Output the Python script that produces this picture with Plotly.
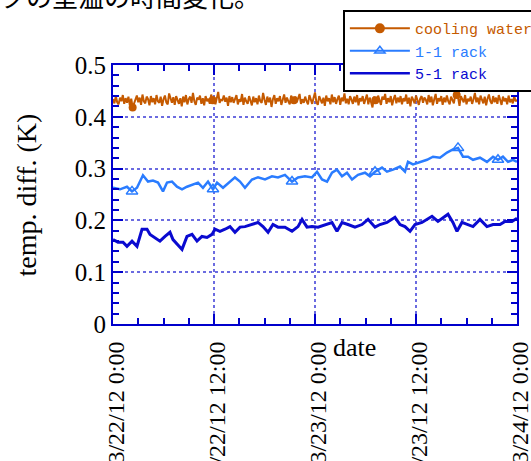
import plotly.graph_objects as go
from datetime import datetime, timedelta

# ---------------- data ----------------
start = datetime(2012, 3, 22, 0, 0)

# cooling water: sampled every 10 minutes (hours 0..48)
cooling_water = [
    0.434, 0.426, 0.440, 0.428, 0.424, 0.437, 0.430, 0.442, 0.425, 0.436, 0.427, 0.439, 0.422, 0.435, 0.418, 0.426, 0.433,
    0.441, 0.428, 0.437, 0.423, 0.443, 0.430, 0.426, 0.439, 0.434, 0.422, 0.440, 0.428, 0.436, 0.424, 0.442, 0.430, 0.427,
    0.439, 0.421, 0.434, 0.441, 0.428, 0.424, 0.445, 0.433, 0.427, 0.438, 0.423, 0.440, 0.430, 0.425, 0.436, 0.420, 0.439,
    0.428, 0.442, 0.424, 0.434, 0.439, 0.427, 0.446, 0.430, 0.423, 0.437, 0.433, 0.441, 0.425, 0.436, 0.422, 0.440, 0.430,
    0.435, 0.425, 0.443, 0.432, 0.439, 0.424, 0.436, 0.448, 0.427, 0.433, 0.432, 0.441, 0.429, 0.437, 0.421, 0.440, 0.428,
    0.438, 0.427, 0.435, 0.442, 0.424, 0.434, 0.429, 0.444, 0.423, 0.437, 0.430, 0.425, 0.440, 0.433, 0.422, 0.439, 0.428,
    0.436, 0.424, 0.441, 0.430, 0.427, 0.446, 0.433, 0.423, 0.439, 0.428, 0.437, 0.419, 0.434, 0.442, 0.425, 0.436, 0.430,
    0.440, 0.423, 0.434, 0.443, 0.427, 0.437, 0.430, 0.424, 0.441, 0.433, 0.432, 0.439, 0.428, 0.435, 0.444, 0.425, 0.434,
    0.427, 0.439, 0.430, 0.424, 0.442, 0.434, 0.425, 0.437, 0.447, 0.428, 0.423, 0.440, 0.433, 0.426, 0.437, 0.421, 0.441,
    0.430, 0.436, 0.424, 0.443, 0.428, 0.438, 0.425, 0.434, 0.441, 0.423, 0.437, 0.430, 0.445, 0.426, 0.435, 0.424, 0.440,
    0.433, 0.425, 0.439, 0.428, 0.442, 0.422, 0.436, 0.430, 0.440, 0.425, 0.434, 0.443, 0.424, 0.437, 0.428, 0.418, 0.439,
    0.432, 0.426, 0.441, 0.430, 0.423, 0.439, 0.433, 0.444, 0.425, 0.436, 0.428, 0.440, 0.422, 0.434, 0.442, 0.426, 0.437,
    0.428, 0.440, 0.424, 0.436, 0.430, 0.443, 0.425, 0.437, 0.420, 0.439, 0.433, 0.426, 0.441, 0.430, 0.423, 0.435, 0.440,
    0.427, 0.437, 0.433, 0.424, 0.442, 0.428, 0.439, 0.422, 0.434, 0.444, 0.425, 0.436, 0.430, 0.440, 0.423, 0.437, 0.428,
    0.441, 0.430, 0.424, 0.439, 0.434, 0.426, 0.443, 0.442, 0.437, 0.421, 0.440, 0.433, 0.428, 0.442, 0.424, 0.435, 0.430,
    0.439, 0.425, 0.434, 0.446, 0.428, 0.437, 0.424, 0.441, 0.433, 0.426, 0.439, 0.422, 0.435, 0.443, 0.430, 0.425, 0.440,
    0.428, 0.437, 0.425, 0.442, 0.433, 0.423, 0.439, 0.430, 0.436, 0.424, 0.441, 0.428, 0.434, 0.426, 0.440, 0.430, 0.433,
]
cooling_marker_idx = [14, 71, 129, 187, 245]

# 1-1 rack
rack11_hours = [
    0.00, 0.83, 1.66, 2.26, 2.85, 3.56, 4.16, 4.75, 5.35, 5.94, 6.42, 7.01, 7.60, 8.20, 8.79,
    9.50, 10.10, 10.69, 11.29, 11.88, 12.36, 13.07, 13.90, 14.49, 15.09, 15.68, 16.51, 17.23,
    18.06, 18.89, 19.60, 20.43, 21.27, 21.98, 22.81, 23.64, 24.24, 24.83, 25.43, 26.02, 26.61,
    27.21, 27.80, 28.40, 29.11, 29.94, 30.53, 31.13, 31.96, 32.55, 33.27, 34.10, 34.69, 35.05,
    35.64, 36.47, 37.31, 38.02, 38.85, 39.68, 40.39, 40.99, 41.58, 42.18, 42.77, 43.60, 44.43,
    45.15, 45.74, 46.33, 46.93, 47.52, 48.00,
]
rack11 = [
    0.263, 0.260, 0.265, 0.256, 0.263, 0.287, 0.275, 0.277, 0.273, 0.256, 0.273, 0.275, 0.265, 0.260, 0.265,
    0.269, 0.273, 0.263, 0.275, 0.260, 0.273, 0.263, 0.275, 0.283, 0.275, 0.263, 0.279, 0.283,
    0.279, 0.285, 0.283, 0.288, 0.275, 0.283, 0.285, 0.283, 0.294, 0.279, 0.275, 0.292, 0.298,
    0.285, 0.292, 0.279, 0.288, 0.292, 0.285, 0.294, 0.302, 0.294, 0.298, 0.304, 0.294, 0.313,
    0.308, 0.313, 0.317, 0.323, 0.321, 0.331, 0.337, 0.340, 0.323, 0.323, 0.317, 0.321, 0.313,
    0.323, 0.317, 0.323, 0.313, 0.317, 0.313,
]
rack11_marker_idx = [3, 19, 32, 47, 61, 68]

# 5-1 rack
rack51_hours = [
    0.00, 0.59, 1.19, 1.66, 2.26, 2.85, 3.45, 4.04, 4.40, 4.99, 5.58, 6.18, 6.77, 7.13, 7.60,
    8.20, 8.79, 9.39, 9.98, 10.57, 11.17, 11.76, 12.12, 12.71, 13.31, 13.90, 14.49, 15.09,
    15.68, 16.51, 17.23, 17.82, 18.42, 19.01, 19.60, 20.43, 21.27, 21.98, 22.46, 23.05, 23.64,
    24.36, 25.19, 26.02, 26.61, 27.21, 27.92, 28.75, 29.58, 30.30, 31.13, 31.72, 32.55, 33.50,
    34.10, 34.69, 35.29, 35.88, 36.71, 37.31, 37.90, 38.61, 39.21, 39.80, 40.39, 40.87, 41.46,
    42.18, 42.77, 43.60, 44.43, 45.15, 45.98, 46.57, 47.40, 48.00,
]
rack51 = [
    0.163, 0.158, 0.158, 0.150, 0.160, 0.150, 0.183, 0.183, 0.173, 0.167, 0.160, 0.169, 0.177, 0.163, 0.154,
    0.144, 0.169, 0.173, 0.160, 0.169, 0.167, 0.173, 0.183, 0.179, 0.183, 0.188, 0.177, 0.187,
    0.188, 0.192, 0.196, 0.188, 0.177, 0.192, 0.187, 0.187, 0.179, 0.188, 0.202, 0.187, 0.188,
    0.187, 0.192, 0.196, 0.179, 0.196, 0.192, 0.187, 0.192, 0.202, 0.187, 0.192, 0.196, 0.206,
    0.192, 0.188, 0.179, 0.192, 0.196, 0.202, 0.208, 0.198, 0.206, 0.212, 0.196, 0.179, 0.196,
    0.192, 0.188, 0.202, 0.188, 0.192, 0.192, 0.198, 0.198, 0.204,
]

tick_hours = [0, 12, 24, 36, 48]
tick_labels = ["3/22/12 0:00", "3/22/12 12:00", "3/23/12 0:00", "3/23/12 12:00", "3/24/12 0:00"]
y_ticks = [0, 0.1, 0.2, 0.3, 0.4, 0.5]
y_labels = ["0", "0.1", "0.2", "0.3", "0.4", "0.5"]

# ---------------- figure ----------------
C_COOL = "#c55a00"
C_R11 = "#2a7cff"
C_R51 = "#0a0ad0"
AXIS = "#0000cc"
GRID = "#6b6be0"

def to_dt(hours):
    return [start + timedelta(hours=h) for h in hours]

cool_t = to_dt([i / 6 for i in range(len(cooling_water))])
r11_t = to_dt(rack11_hours)
r51_t = to_dt(rack51_hours)

fig = go.Figure()

fig.add_trace(go.Scatter(x=cool_t, y=cooling_water, mode="lines",
                         line=dict(color=C_COOL, width=2), showlegend=False))
fig.add_trace(go.Scatter(x=[cool_t[i] for i in cooling_marker_idx],
                         y=[cooling_water[i] for i in cooling_marker_idx],
                         mode="markers", marker=dict(symbol="circle", size=8, color=C_COOL),
                         showlegend=False))
fig.add_trace(go.Scatter(x=r11_t, y=rack11, mode="lines",
                         line=dict(color=C_R11, width=2.5), showlegend=False))
fig.add_trace(go.Scatter(x=[r11_t[i] for i in rack11_marker_idx],
                         y=[rack11[i] for i in rack11_marker_idx],
                         mode="markers",
                         marker=dict(symbol="triangle-up-open", size=10, color=C_R11,
                                     line=dict(width=1.5, color=C_R11)),
                         showlegend=False))
fig.add_trace(go.Scatter(x=r51_t, y=rack51, mode="lines",
                         line=dict(color=C_R51, width=3), showlegend=False))

# legend entries
fig.add_trace(go.Scatter(x=[None], y=[None], mode="lines+markers",
                         name=f'<span style="color:{C_COOL}">cooling water</span>',
                         line=dict(color=C_COOL, width=2),
                         marker=dict(symbol="circle", size=10, color=C_COOL)))
fig.add_trace(go.Scatter(x=[None], y=[None], mode="lines+markers",
                         name=f'<span style="color:{C_R11}">1-1 rack</span>',
                         line=dict(color=C_R11, width=2),
                         marker=dict(symbol="triangle-up-open", size=9, color=C_R11,
                                     line=dict(width=1.5, color=C_R11))))
fig.add_trace(go.Scatter(x=[None], y=[None], mode="lines",
                         name=f'<span style="color:{C_R51}">5-1 rack</span>',
                         line=dict(color=C_R51, width=2.5)))

serif = "Liberation Serif, Times New Roman, serif"

fig.update_layout(
    width=531, height=461,
    margin=dict(l=113, r=14, t=65, b=137, autoexpand=False),
    paper_bgcolor="white", plot_bgcolor="white",
    showlegend=True,
    legend=dict(x=0.569, y=1.212, xanchor="left", yanchor="top",
                bgcolor="white", bordercolor="black", borderwidth=2,
                font=dict(family="Liberation Mono, monospace", size=15, color="black"),
                tracegroupgap=0, itemwidth=60),
    font=dict(family=serif, color="black"),
)

fig.update_xaxes(
    type="date",
    range=[start, start + timedelta(hours=48)],
    tickmode="array", tickvals=to_dt(tick_hours), ticktext=tick_labels,
    tickangle=-90, tickfont=dict(family=serif, size=24, color="black"),
    ticklabelstandoff=6, ticklabelshift=3, ticklabeloverflow="allow",
    showline=True, linecolor=AXIS, linewidth=2, mirror="ticks",
    ticks="inside", ticklen=10, tickwidth=2, tickcolor=AXIS,
    showgrid=True, gridcolor=GRID, griddash="dot", gridwidth=1.5,
    minor=dict(tickmode="array", tickvals=to_dt(list(range(0, 49, 3))),
               ticks="inside", ticklen=6, tickwidth=2, tickcolor=AXIS, showgrid=False),
    zeroline=False,
)
fig.update_yaxes(
    range=[0, 0.5],
    tickmode="array", tickvals=y_ticks, ticktext=y_labels,
    tickfont=dict(family=serif, size=25, color="black"),
    showline=True, linecolor=AXIS, linewidth=2, mirror="ticks",
    ticks="inside", ticklen=10, tickwidth=2, tickcolor=AXIS,
    showgrid=True, gridcolor=GRID, griddash="dot", gridwidth=1.5,
    minor=dict(dtick=0.02, ticks="inside", ticklen=6, tickwidth=2, tickcolor=AXIS, showgrid=False),
    zeroline=False,
)

fig.add_annotation(text="temp. diff. (K)", xref="paper", yref="paper",
                   x=-0.213, y=0.500, xanchor="center", yanchor="middle",
                   textangle=-90, showarrow=False,
                   font=dict(family=serif, size=28, color="black"))
fig.add_annotation(text="date", xref="paper", yref="paper",
                   x=0.599, y=-0.089, xanchor="center", yanchor="middle",
                   showarrow=False, font=dict(family=serif, size=26, color="black"))
fig.add_annotation(text="クの室温の時間変化。", xref="paper", yref="paper",
                   x=-0.285, y=1.27, xanchor="left", yanchor="middle",
                   showarrow=False,
                   font=dict(family="Noto Sans CJK JP", size=26, color="black"))

fig.write_html("out.html", config={"displayModeBar": False},
               post_script="document.body.style.margin='0px';")
